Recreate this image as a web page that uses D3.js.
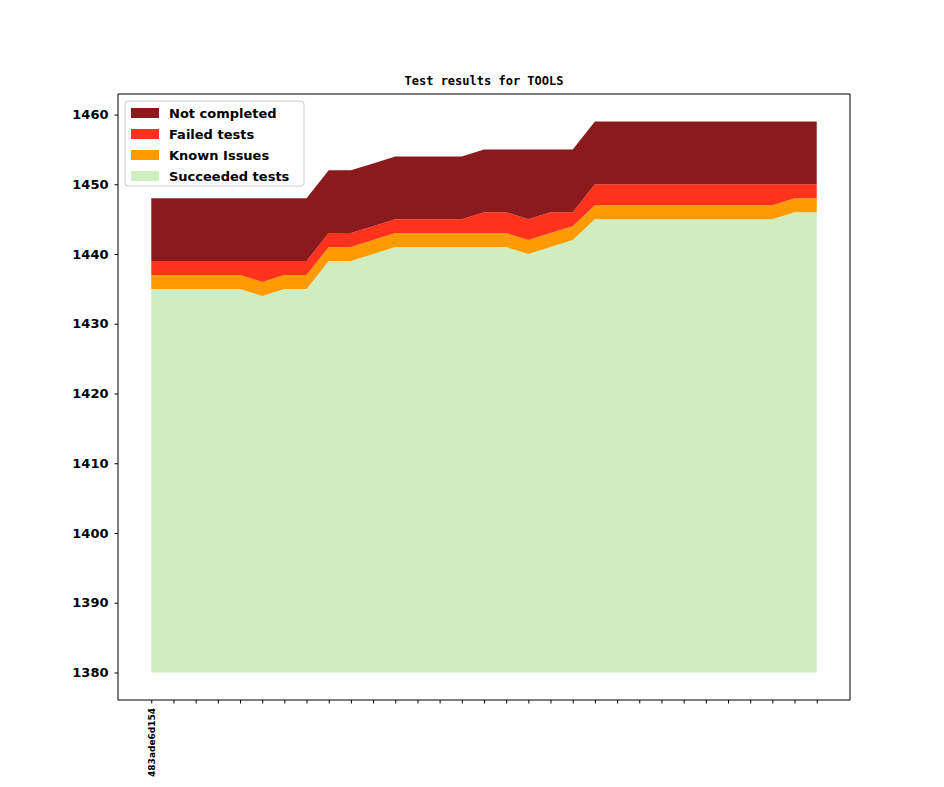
<!DOCTYPE html>
<html><head><meta charset="utf-8">
<script src="https://cdn.jsdelivr.net/npm/d3@7"></script>
<style>body{margin:0;background:#fff}text{font-family:"DejaVu Sans",sans-serif}</style>
</head><body><div id="chart"></div>
<script>
// commit labels (only the first is labelled in the source chart)
var labels = ["483ade6d154"].concat(d3.range(30).map(() => ""));
var succeeded = [1435,1435,1435,1435,1435,1434,1435,1435,1439,1439,1440,1441,1441,1441,1441,1441,1441,1440,1441,1442,1445,1445,1445,1445,1445,1445,1445,1445,1445,1446,1446];
var known     = [2,2,2,2,2,2,2,2,2,2,2,2,2,2,2,2,2,2,2,2,2,2,2,2,2,2,2,2,2,2,2];
var failed    = [2,2,2,2,2,3,2,2,2,2,2,2,2,2,2,3,3,3,3,2,3,3,3,3,3,3,3,3,3,2,2];
var notDone   = [9,9,9,9,9,9,9,9,9,9,9,9,9,9,9,9,9,10,9,9,9,9,9,9,9,9,9,9,9,9,9];
var base = 1380;

var series = [
  {name: "Succeeded tests", vals: succeeded, color: "#cfedbf"},
  {name: "Known Issues", vals: known, color: "#ff9a00"},
  {name: "Failed tests", vals: failed, color: "#ff331c"},
  {name: "Not completed", vals: notDone, color: "#8b1a1c"}
];

var width = 944, height = 787;
var mLeft = 118, mRight = 850, mTop = 94, mBottom = 700;

var n = labels.length;
var rows = d3.range(n).map(i => {
  var r = {i: i, base: base};
  var acc = base;
  series.forEach((s, k) => { acc += (k === 0 ? s.vals[i] - base : s.vals[i]); r["y" + k] = acc; });
  return r;
});

var x = d3.scaleLinear().domain([-1.5, n - 1 + 1.5]).range([mLeft, mRight]);
var y = d3.scaleLinear().domain([1376.05, 1462.95]).range([mBottom, mTop]);

var svg = d3.select("#chart").append("svg").attr("width", width).attr("height", height);

series.forEach((s, k) => {
  var area = d3.area()
      .x(d => x(d.i))
      .y0(d => k === 0 ? y(d.base) : y(d["y" + (k - 1)]))
      .y1(d => y(d["y" + k]));
  svg.append("path").datum(rows).attr("fill", s.color).attr("d", area);
});

// axes
svg.append("g").attr("transform", `translate(0,${mBottom})`)
    .call(d3.axisBottom(x).tickValues(d3.range(n)).tickSize(3.5).tickFormat(i => labels[i]))
    .call(g => g.select(".domain").remove())
    .call(g => g.selectAll("text")
        .attr("transform", "rotate(-90)")
        .attr("text-anchor", "end")
        .attr("x", -8).attr("y", 0).attr("dy", "0.35em")
        .style("font-size", "9px").style("font-weight", "bold").attr("fill", "#000"));

svg.append("g").attr("transform", `translate(${mLeft},0)`)
    .call(d3.axisLeft(y).tickValues(d3.range(1380, 1461, 10)).tickFormat(d3.format("d")).tickSize(3.5).tickPadding(6))
    .call(g => g.select(".domain").remove())
    .call(g => g.selectAll("text").style("font-size", "13px").style("font-weight", "bold")
        .style("font-family", "DejaVu Sans").attr("fill", "#000"));

svg.append("rect").attr("x", mLeft).attr("y", mTop).attr("width", mRight - mLeft).attr("height", mBottom - mTop)
    .attr("fill", "none").attr("stroke", "#000").attr("stroke-width", 1);

svg.append("text").attr("x", (mLeft + mRight) / 2).attr("y", mTop - 9).attr("text-anchor", "middle")
    .style("font-family", "DejaVu Sans Mono").style("font-size", "12px").style("font-weight", "bold")
    .text("Test results for TOOLS");

// legend
var lg = svg.append("g").attr("transform", "translate(125,101)");
lg.append("rect").attr("width", 179).attr("height", 85).attr("rx", 3)
    .attr("fill", "#fff").attr("fill-opacity", 0.8).attr("stroke", "#ccc");
series.slice().reverse().forEach((s, j) => {
  var yy = 12 + j * 21;
  lg.append("rect").attr("x", 6).attr("y", yy - 5).attr("width", 28).attr("height", 10).attr("fill", s.color);
  lg.append("text").attr("x", 44).attr("y", yy).attr("dy", "0.35em")
      .style("font-size", "13px").style("font-weight", "bold").text(s.name);
});
</script></body></html>
